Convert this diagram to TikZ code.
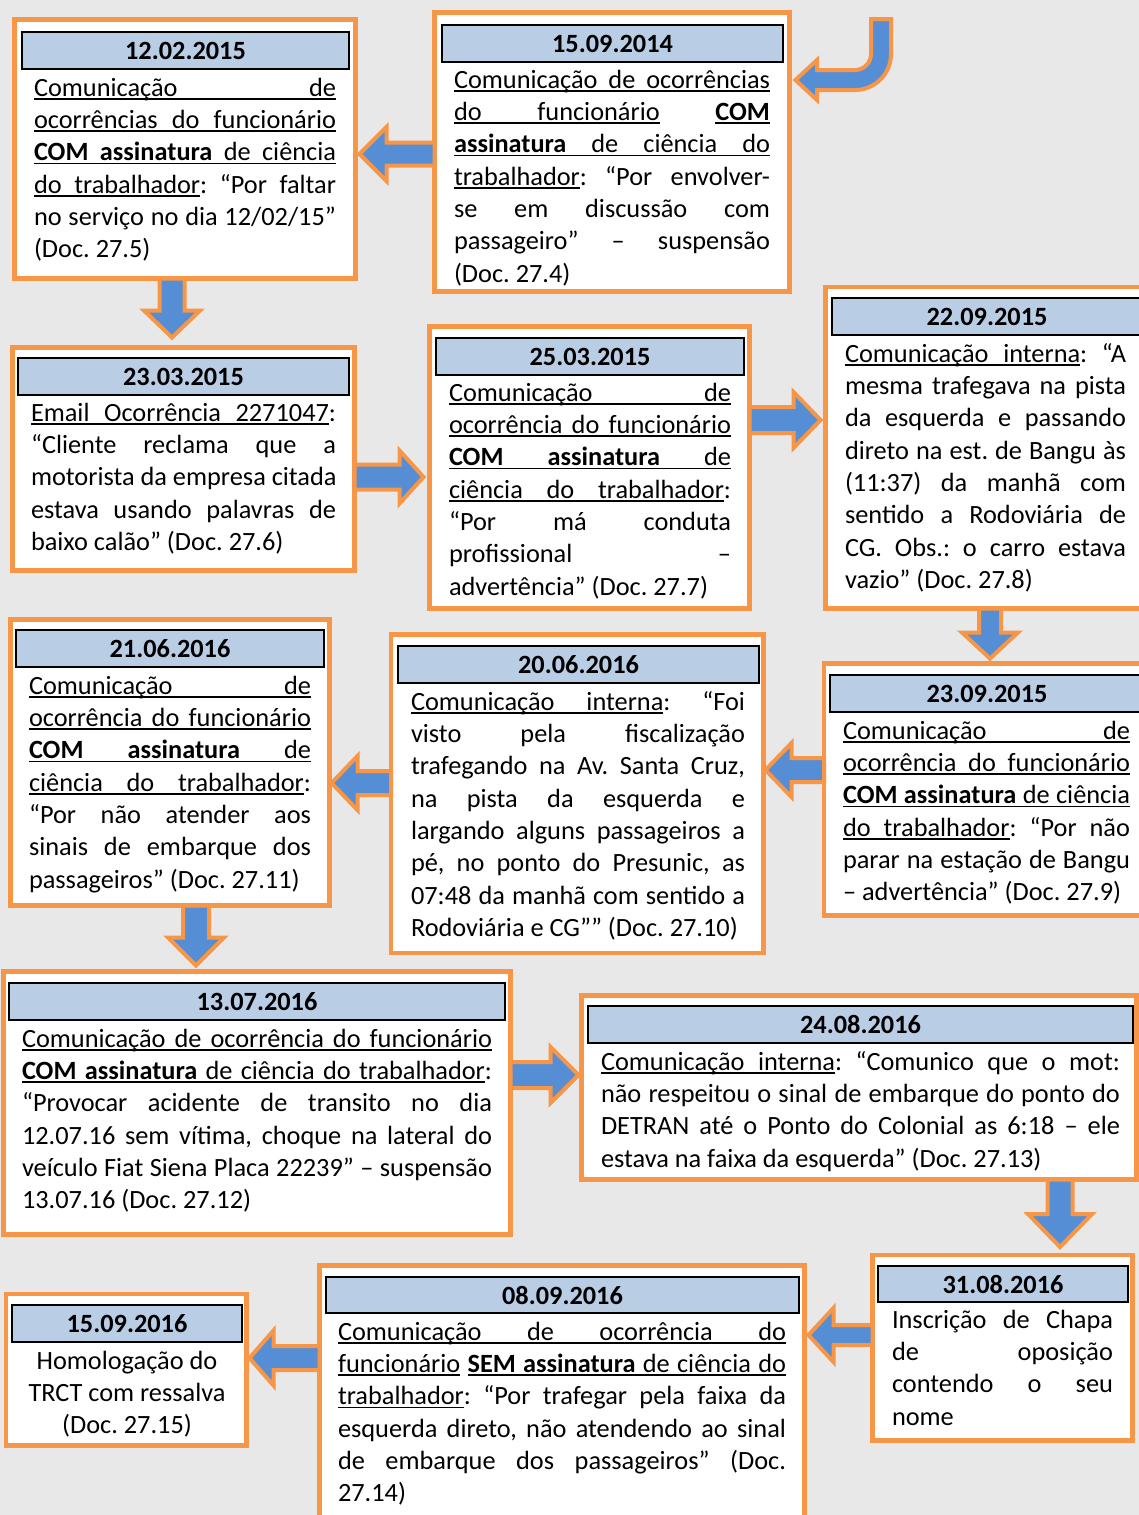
\documentclass[tikz,border=0pt]{standalone}
\usepackage{fontspec}
\setmainfont{Carlito}
\usetikzlibrary{calc}
\definecolor{orng}{RGB}{247,150,70}
\definecolor{ablue}{RGB}{85,142,213}
\definecolor{hblue}{RGB}{185,205,229}
\definecolor{bgc}{RGB}{232,232,232}

\newcommand\ulw[1]{\setbox0\hbox{#1}\rlap{\vrule width\wd0 height-1.8pt depth3.6pt}\box0}
\newcommand\ulsp{\leaders\hrule height-1.8pt depth3.6pt\hskip\fontdimen2\font plus 1fil\relax}
\newcommand\jline[1]{\hbox to\hsize{\spaceskip=\fontdimen2\font plus 1fil\relax#1}}
\newcommand\lline[1]{\hbox to\hsize{#1\hfill}}
\newcommand\cenline[1]{\hbox to\hsize{\hfill#1\hfill}}
\newcommand\bodytext[2]{\vtop{\hsize=#1pt\baselineskip=32.35pt\lineskiplimit=-100pt\relax#2}}

\newcommand\harrow[5]{%
 \path[barrow] let \p1=#1, \p2=#2, \n1={(\x2>\x1)?1:-1} in
 (\x1,\y2-#3pt) -- ({\x2-\n1*#5pt},\y2-#3pt) -- ({\x2-\n1*#5pt},\y2-#4pt) -- (\x2,\y2)
 -- ({\x2-\n1*#5pt},\y2+#4pt) -- ({\x2-\n1*#5pt},\y2+#3pt) -- (\x1,\y2+#3pt) -- cycle;}
\newcommand\varrow[5]{%
 \path[barrow] let \p1=#1, \p2=#2, \n1={(\y2>\y1)?1:-1} in
 (\x2-#3pt,\y1) -- (\x2-#3pt,{\y2-\n1*#5pt}) -- (\x2-#4pt,{\y2-\n1*#5pt}) -- (\x2,\y2)
 -- (\x2+#4pt,{\y2-\n1*#5pt}) -- (\x2+#3pt,{\y2-\n1*#5pt}) -- (\x2+#3pt,\y1) -- cycle;}

\tikzset{
  obox/.style={draw=orng, fill=white, line width=4.5pt, rectangle, inner sep=0pt, outer sep=0pt, anchor=north west},
  hdr/.style={draw=black, fill=hblue, line width=2pt, rectangle, inner sep=0pt, outer sep=0pt, anchor=north west,
     font=\fontsize{26.33}{32.35}\selectfont\bfseries},
  txt/.style={inner sep=0pt, outer sep=0pt, anchor=base west, font=\fontsize{26.33}{32.35}\selectfont\frenchspacing},
  barrow/.style={draw=orng, fill=ablue, line width=4pt, line join=miter},
}

\begin{document}
\begin{tikzpicture}[x=1pt,y=-1pt]
\clip (0,0) rectangle (1139,1515);
\fill[bgc] (0,0) rectangle (1139,1515);

% ---------- boxes ----------
\node[obox, minimum width=341, minimum height=259] (b1) at (14.5,19.5) {};
\node[hdr, minimum width=327, minimum height=37] (h1) at (22,32) {12.02.2015};
\node[txt] (t1) at (34,96) {\bodytext{302}{%
\jline{\ulw{Comunicação}\ulsp\ulw{de}}
\jline{\ulw{ocorrências}\ulsp\ulw{do}\ulsp\ulw{funcionário}}
\jline{\textbf{\ulw{COM}\ulsp\ulw{assinatura}}\ulsp\ulw{de}\ulsp\ulw{ciência}}
\jline{\ulw{do}\ulsp\ulw{trabalhador}: “Por faltar}
\jline{no serviço no dia 12/02/15”}
\lline{(Doc. 27.5)}}};

\node[obox, minimum width=355, minimum height=279] (b2) at (434.5,12.5) {};
\node[hdr, minimum width=341, minimum height=37] (h2) at (442,25) {15.09.2014};
\node[txt] (t2) at (454,88) {\bodytext{316}{%
\jline{\ulw{Comunicação}\ulsp\ulw{de}\ulsp\ulw{ocorrências}}
\jline{\ulw{do}\ulsp\ulw{funcionário}\ulsp\textbf{\ulw{COM}}}
\jline{\textbf{\ulw{assinatura}}\ulsp\ulw{de}\ulsp\ulw{ciência}\ulsp\ulw{do}}
\jline{\ulw{trabalhador}: “Por envolver-}
\jline{se em discussão com}
\jline{passageiro” – suspensão}
\lline{(Doc. 27.4)}}};

\node[obox, minimum width=342, minimum height=223] (b3) at (12.5,347.5) {};
\node[hdr, minimum width=331, minimum height=37] (h3) at (18,358) {23.03.2015};
\node[txt] (t3) at (31,421) {\bodytext{305}{%
\jline{\ulw{Email}\ulsp\ulw{Ocorrência}\ulsp\ulw{2271047}:}
\jline{“Cliente reclama que a}
\jline{motorista da empresa citada}
\jline{estava usando palavras de}
\lline{baixo calão” (Doc. 27.6)}}};

\node[obox, minimum width=320, minimum height=282] (b4) at (429.5,326.5) {};
\node[hdr, minimum width=308, minimum height=37] (h4) at (436,338) {25.03.2015};
\node[txt] (t4) at (449,401) {\bodytext{282}{%
\jline{\ulw{Comunicação}\ulsp\ulw{de}}
\jline{\ulw{ocorrência}\ulsp\ulw{do}\ulsp\ulw{funcionário}}
\jline{\textbf{\ulw{COM}\ulsp\ulw{assinatura}}\ulsp\ulw{de}}
\jline{\ulw{ciência}\ulsp\ulw{do}\ulsp\ulw{trabalhador}:}
\jline{“Por má conduta}
\jline{profissional –}
\lline{advertência” (Doc. 27.7)}}};

\node[obox, minimum width=325, minimum height=321.5] (b5) at (825.5,287) {};
\node[hdr, minimum width=310, minimum height=37] (h5) at (832,298) {22.09.2015};
\node[txt] (t5) at (845,362) {\bodytext{281}{%
\jline{\ulw{Comunicação}\ulsp\ulw{interna}: “A}
\jline{mesma trafegava na pista}
\jline{da esquerda e passando}
\jline{direto na est. de Bangu às}
\jline{(11:37) da manhã com}
\jline{sentido a Rodoviária de}
\jline{CG. Obs.: o carro estava}
\lline{vazio” (Doc. 27.8)}}};

\node[obox, minimum width=319, minimum height=286] (b6) at (10.5,619.5) {};
\node[hdr, minimum width=308, minimum height=37] (h6) at (16,630) {21.06.2016};
\node[txt] (t6) at (29,694) {\bodytext{282}{%
\jline{\ulw{Comunicação}\ulsp\ulw{de}}
\jline{\ulw{ocorrência}\ulsp\ulw{do}\ulsp\ulw{funcionário}}
\jline{\textbf{\ulw{COM}\ulsp\ulw{assinatura}}\ulsp\ulw{de}}
\jline{\ulw{ciência}\ulsp\ulw{do}\ulsp\ulw{trabalhador}:}
\jline{“Por não atender aos}
\jline{sinais de embarque dos}
\lline{passageiros” (Doc. 27.11)}}};

\node[obox, minimum width=372.5, minimum height=318.5] (b7) at (391,634.5) {};
\node[hdr, minimum width=361, minimum height=37] (h7) at (398,646) {20.06.2016};
\node[txt] (t7) at (411,710) {\bodytext{334}{%
\jline{\ulw{Comunicação}\ulsp\ulw{interna}: “Foi}
\jline{visto pela fiscalização}
\jline{trafegando na Av. Santa Cruz,}
\jline{na pista da esquerda e}
\jline{largando alguns passageiros a}
\jline{pé, no ponto do Presunic, as}
\jline{07:48 da manhã com sentido a}
\lline{Rodoviária e CG”” (Doc. 27.10)}}};

\node[obox, minimum width=326, minimum height=252] (b8) at (824,663.5) {};
\node[hdr, minimum width=314, minimum height=37] (h8) at (830,675) {23.09.2015};
\node[txt] (t8) at (843,739) {\bodytext{287}{%
\jline{\ulw{Comunicação}\ulsp\ulw{de}}
\jline{\ulw{ocorrência}\ulsp\ulw{do}\ulsp\ulw{funcionário}}
\jline{\textbf{\ulw{COM}\ulsp\ulw{assinatura}}\ulsp\ulw{de}\ulsp\ulw{ciência}}
\jline{\ulw{do}\ulsp\ulw{trabalhador}: “Por não}
\jline{parar na estação de Bangu}
\lline{– advertência” (Doc. 27.9)}}};

\node[obox, minimum width=507, minimum height=263] (b9) at (3.5,971.5) {};
\node[hdr, minimum width=496, minimum height=37] (h9) at (9,983) {13.07.2016};
\node[txt] (t9) at (22,1047) {\bodytext{470}{%
\jline{\ulw{Comunicação}\ulsp\ulw{de}\ulsp\ulw{ocorrência}\ulsp\ulw{do}\ulsp\ulw{funcionário}}
\jline{\textbf{\ulw{COM}\ulsp\ulw{assinatura}}\ulsp\ulw{de}\ulsp\ulw{ciência}\ulsp\ulw{do}\ulsp\ulw{trabalhador}:}
\jline{“Provocar acidente de transito no dia}
\jline{12.07.16 sem vítima, choque na lateral do}
\jline{veículo Fiat Siena Placa 22239” – suspensão}
\lline{13.07.16 (Doc. 27.12)}}};

\node[obox, minimum width=555, minimum height=184] (b10) at (581.5,995.5) {};
\node[hdr, minimum width=545, minimum height=37] (h10) at (588,1006) {24.08.2016};
\node[txt] (t10) at (601,1070) {\bodytext{519}{%
\jline{\ulw{Comunicação}\ulsp\ulw{interna}: “Comunico que o mot:}
\jline{não respeitou o sinal de embarque do ponto do}
\jline{DETRAN até o Ponto do Colonial as 6:18 – ele}
\lline{estava na faixa da esquerda” (Doc. 27.13)}}};

\node[obox, minimum width=260, minimum height=185.5] (b11) at (872.5,1255) {};
\node[hdr, minimum width=250, minimum height=36] (h11) at (878,1266) {31.08.2016};
\node[txt] (t11) at (892,1328) {\bodytext{221}{%
\jline{Inscrição de Chapa}
\jline{de oposição}
\jline{contendo o seu}
\lline{nome}}};

\node[obox, minimum width=485, minimum height=270] (b12) at (319.5,1265.5) {};
\node[hdr, minimum width=473, minimum height=36] (h12) at (326,1277) {08.09.2016};
\node[txt] (t12) at (338,1340) {\bodytext{448}{%
\jline{\ulw{Comunicação}\ulsp\ulw{de}\ulsp\ulw{ocorrência}\ulsp\ulw{do}}
\jline{\ulw{funcionário}\ulsp\textbf{\ulw{SEM}\ulsp\ulw{assinatura}}\ulsp\ulw{de}\ulsp\ulw{ciência}\ulsp\ulw{do}}
\jline{\ulw{trabalhador}: “Por trafegar pela faixa da}
\jline{esquerda direto, não atendendo ao sinal}
\jline{de embarque dos passageiros” (Doc.}
\lline{27.14)}}};

\node[obox, minimum width=240.5, minimum height=151.5] (b13) at (6,1294) {};
\node[hdr, minimum width=230, minimum height=37] (h13) at (12,1305) {15.09.2016};
\node[txt] (t13) at (20,1369) {\bodytext{214}{%
\cenline{Homologação do}
\cenline{TRCT com ressalva}
\cenline{(Doc. 27.15)}}};

% ---------- arrows ----------
\coordinate (start) at (881,19);
\path[barrow] (start) ++(-10,0) -- (871,54) arc[start angle=0, end angle=-90, radius=16pt]
  -- (817,70) -- (817,60) -- ($(b2.east |- 0,80)+(6,0)$) -- (817,100) -- (817,90) -- (855,90)
  arc[start angle=-90, end angle=0, radius=36pt] -- (891,19) -- cycle;

\harrow{(b2.west |- 0,154)}{($(b1.east |- 0,154)+(4,0)$)}{11.5}{27}{27}
\varrow{(172,0 |- b1.south)}{($(172,0 |- b3.north)+(0,-10)$)}{12.5}{28}{27}
\harrow{(b3.east |- 0,477)}{($(b4.west |- 0,477)+(-6,0)$)}{12.5}{26.5}{24}
\harrow{(b4.east |- 0,420)}{($(b5.west |- 0,420)+(-5,0)$)}{13}{28}{27}
\varrow{(990,0 |- b5.south)}{($(990,0 |- b8.north)+(0,-5)$)}{11}{28}{26}
\harrow{(b8.west |- 0,770)}{($(b7.east |- 0,770)+(2,0)$)}{12}{27}{26}
\harrow{(b7.west |- 0,783)}{($(b6.east |- 0,783)+(2,0)$)}{12}{27}{26}
\varrow{(196,0 |- b6.south)}{($(196,0 |- b9.north)+(0,-6)$)}{13}{28}{28}
\harrow{(b9.east |- 0,1075)}{($(b10.west |- 0,1075)+(-3,0)$)}{13}{28}{28}
\varrow{(1060,0 |- b10.south)}{($(1060,0 |- b11.north)+(0,-8)$)}{12.5}{32}{33}
\harrow{(b11.west |- 0,1335)}{($(b12.east |- 0,1335)+(4,0)$)}{10}{27}{25}
\harrow{(b12.west |- 0,1358)}{($(b13.east |- 0,1358)+(3,0)$)}{12}{27.5}{24}
\end{tikzpicture}
\end{document}
